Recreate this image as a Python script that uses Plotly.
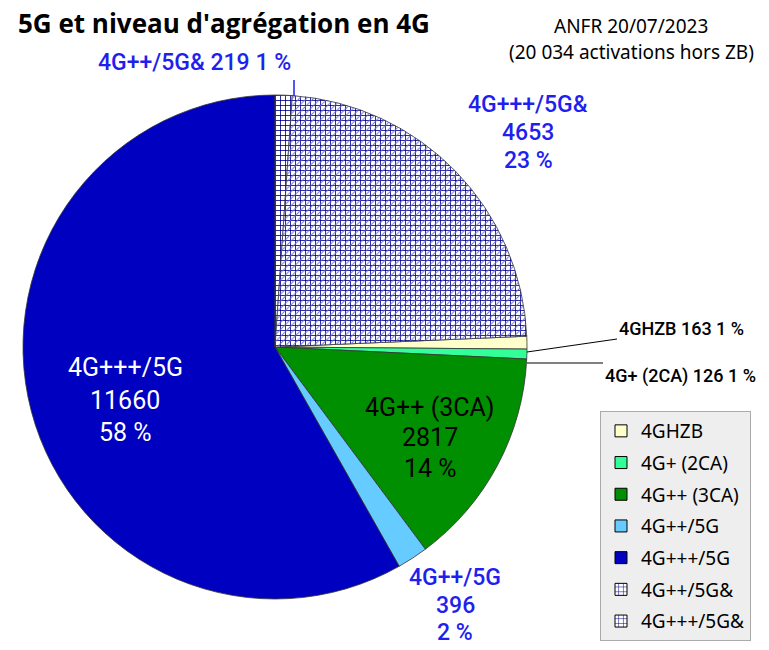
import plotly.graph_objects as go

# the page body has an 8px margin, so the figure is drawn 8px in from the corner
OFF = 8
FW, FH = 769 - OFF, 650 - OFF

# ---------------- data ----------------
labels = ["4GHZB", "4G+ (2CA)", "4G++ (3CA)", "4G++/5G", "4G+++/5G", "4G++/5G&", "4G+++/5G&"]
counts = [163, 126, 2817, 396, 11660, 219, 4653]
colors = ["#ffffcc", "#33ff99", "#008f00", "#66ccff", "#0000c0", "#00008b", "#00008b"]
patterns = ["", "", "", "", "", "+", "+"]
diag = ["", "", "", "", "", "", "/"]

total = sum(counts)
pcts = [round(100 * c / total) for c in counts]
# slices go clockwise from 12 o'clock starting with the two "&" categories
rotation = (counts[5] + counts[6]) / total * 360

BLUE_TXT = "#1f1fef"
LBL_FONT = "Roboto"


def px(x):
    return (x - OFF) / FW


def py(y):
    return 1 - (y - OFF) / FH


pie_domain = dict(x=[px(23), px(527)], y=[py(599), py(95)])

fig = go.Figure()

fig.add_trace(go.Pie(
    labels=labels, values=counts, sort=False, direction="clockwise",
    rotation=rotation, textinfo="none", hoverinfo="label+value+percent",
    showlegend=False,
    marker=dict(colors=colors,
                line=dict(color="#333333", width=0.8),
                pattern=dict(shape=patterns, fgcolor="#00008b", bgcolor="white",
                             size=5, solidity=0.3, fillmode="replace")),
    domain=pie_domain,
))

# second layer: the light diagonal hatch on 4G+++/5G&
fig.add_trace(go.Pie(
    labels=labels, values=counts, sort=False, direction="clockwise",
    rotation=rotation, textinfo="none", hoverinfo="skip",
    showlegend=False,
    marker=dict(colors=["rgba(0,0,0,0)"] * len(labels),
                line=dict(width=0),
                pattern=dict(shape=diag, fgcolor="#6a6ad8", bgcolor="rgba(0,0,0,0)",
                             size=5, solidity=0.18, fillmode="replace")),
    domain=pie_domain,
))

# legend built from empty bar traces so the rows can be spaced like the original
for lab, col, pat in zip(labels, colors, patterns):
    fig.add_trace(go.Bar(
        x=[None], y=[None], name=lab, legendgroup=lab,
        marker=dict(color=col, line=dict(color="black", width=1),
                    pattern=dict(shape=pat, fgcolor="#00008b", bgcolor="white",
                                 size=6, solidity=0.2, fillmode="replace")),
    ))


def add_label(lines, cx, cy, step, size, color, family=LBL_FONT, anchor="center", weight=400):
    n = len(lines)
    for i, t in enumerate(lines):
        y = cy + (i - (n - 1) / 2) * step
        fig.add_annotation(x=px(cx), y=py(y), xref="paper", yref="paper",
                           text=t, showarrow=False, xanchor=anchor, yanchor="middle",
                           font=dict(family=family, size=size, color=color, weight=weight))


def parts(i):
    return [labels[i], str(counts[i]), f"{pcts[i]} %"]


add_label(parts(4), 125, 400, 32, 25, "white")
add_label(parts(2), 430, 437.5, 30.5, 25, "black")
add_label(parts(6), 528, 132.5, 27.5, 23, BLUE_TXT, weight=500)
add_label(parts(3), 455, 605, 27.5, 23, BLUE_TXT, weight=500)
add_label([f"{labels[5]} {counts[5]} {pcts[5]} %"], 194.5, 62, 0, 23, BLUE_TXT, weight=500)
add_label([f"{labels[0]} {counts[0]} {pcts[0]} %"], 617, 328, 0, 18, "black",
          anchor="left", weight=500)
add_label([f"{labels[1]} {counts[1]} {pcts[1]} %"], 603, 376, 0, 18, "black",
          anchor="left", weight=500)

# leader lines for the small slices
fig.add_shape(type="line", xref="paper", yref="paper",
              x0=px(294), y0=py(80), x1=px(294), y1=py(96),
              line=dict(color=BLUE_TXT, width=1.5))
fig.add_shape(type="line", xref="paper", yref="paper",
              x0=px(527), y0=py(352), x1=px(617), y1=py(339),
              line=dict(color="black", width=1))
fig.add_shape(type="line", xref="paper", yref="paper",
              x0=px(527), y0=py(363), x1=px(603), y1=py(363),
              line=dict(color="black", width=1))

# source note
add_label(["ANFR 20/07/2023", "(20 034 activations hors ZB)"], 631, 38.75, 26.5, 19, "black",
          family="Noto Sans")

fig.update_layout(
    width=FW, height=FH,
    margin=dict(l=0, r=0, t=0, b=0),
    paper_bgcolor="white", plot_bgcolor="white",
    title=dict(text="<b>5G et niveau d'agrégation en 4G</b>", x=px(18), xanchor="left",
               y=py(24), yanchor="middle",
               font=dict(family="Open Sans", size=26, color="black")),
    xaxis=dict(visible=False), yaxis=dict(visible=False),
    showlegend=True,
    legend=dict(x=px(600), y=py(411), xanchor="left", yanchor="top",
                bgcolor="#eeeeee", bordercolor="#aaaaaa", borderwidth=1,
                tracegroupgap=4, traceorder="grouped",
                font=dict(family="Noto Sans", size=19, color="black")),
)

fig.write_html("out.html")
